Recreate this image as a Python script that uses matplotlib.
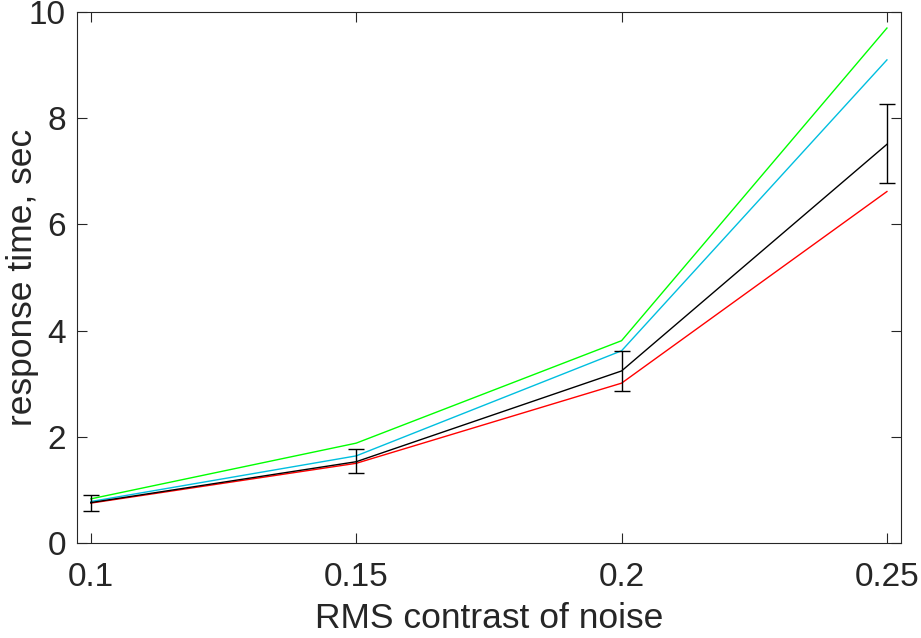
import matplotlib

matplotlib.use("Agg")
import matplotlib.pyplot as plt

plt.rcParams["font.family"] = ["Liberation Sans", "DejaVu Sans"]

contrast = [0.1, 0.15, 0.2, 0.25]
mean_rt = [0.76, 1.53, 3.24, 7.51]
err_lo = [0.61, 1.32, 2.87, 6.78]
err_hi = [0.90, 1.77, 3.62, 8.27]
green_rt = [0.83, 1.88, 3.81, 9.70]
cyan_rt = [0.78, 1.64, 3.62, 9.10]
red_rt = [0.75, 1.50, 3.01, 6.62]

fig = plt.figure(figsize=(9.21, 6.38), dpi=100)
ax = fig.add_axes([0.0836, 0.149, 0.8944, 0.832])

ax.plot(contrast, green_rt, color="#00ff00", lw=1.0)
ax.plot(contrast, cyan_rt, color="#00bfdf", lw=1.0)
ax.plot(contrast, red_rt, color="#ff0000", lw=1.0)
yerr = [[m - lo for m, lo in zip(mean_rt, err_lo)],
        [hi - m for m, hi in zip(mean_rt, err_hi)]]
ax.errorbar(contrast, mean_rt, yerr=yerr, color="black", lw=1.0,
            elinewidth=1.0, capsize=6, capthick=1.0)

ax.set_xlim(0.0974, 0.2526)
ax.set_ylim(0, 10)
ax.set_xticks(contrast)
ax.set_xticklabels(["0.1", "0.15", "0.2", "0.25"])
ax.set_yticks([0, 2, 4, 6, 8, 10])
ax.tick_params(direction="in", top=True, right=True, labelsize=24,
               colors="#262626", length=7)
ax.tick_params(axis="x", pad=14)
ax.tick_params(axis="y", pad=8)
for s in ax.spines.values():
    s.set_color("#262626")
    s.set_linewidth(0.8)
ax.set_xlabel("RMS contrast of noise", fontsize=25.5, color="#262626")
ax.set_ylabel("response time, sec", fontsize=25.5, color="#262626")
ax.xaxis.set_label_coords(0.5, -0.112)
ax.yaxis.set_label_coords(-0.046, 0.5)

fig.savefig("out.png", dpi=100)
